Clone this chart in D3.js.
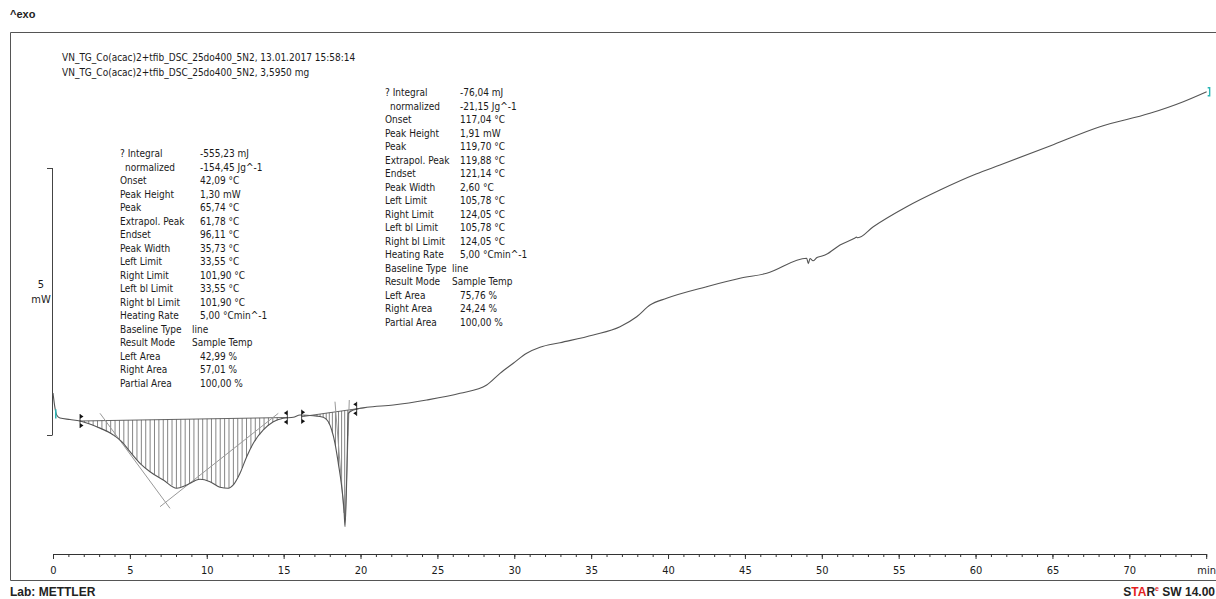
<!DOCTYPE html>
<html><head><meta charset="utf-8">
<script src="https://cdn.jsdelivr.net/npm/d3@7"></script>
<style>
body{margin:0;background:#fff;}
svg{display:block;}
.ann{font-family:'DejaVu Sans Condensed','DejaVu Sans',sans-serif;font-size:10px;fill:#1a1a1a;}
.tick text{font-family:'DejaVu Sans Condensed','DejaVu Sans',sans-serif;font-size:11px;fill:#1a1a1a;}
.bold{font-family:'Liberation Sans',Arial,sans-serif;font-weight:bold;font-size:12px;fill:#222;}
</style></head><body>
<svg id="c" width="1216" height="599"></svg>
<script>
// time in min, heat flow (relative, mW)
const curveT = [0,0.04,0.1,0.18,0.26,0.455,1.106,1.756,2.842,3.922,4.572,5.008,5.658,6.309,7.173,8.045,8.695,9.56,10.211,10.861,11.401,11.726,12.162,12.598,13.027,13.677,14.327,14.978,15.628,16.064,16.929,17.579,17.905,18.126,18.34,18.555,18.776,18.926,18.991,19.101,19.205,19.53,19.966,20.402,22.132,24.304,26.47,28.206,29.071,29.936,30.808,31.673,32.973,35.139,36.876,37.962,38.827,39.91,42.514,44.68,46.417,49.018,49.122,49.233,49.428,49.688,50.013,50.273,51.184,52.16,52.25,52.34,53.349,55.521,57.687,60.03,61.59,64.84,68.09,71.34,73.51,75.03];
const curveV = [0.787,0.69,0.56,0.43,0.365,0.318,0.29,0.262,0.155,0.0,-0.155,-0.313,-0.53,-0.687,-0.843,-0.998,-0.936,-0.83,-0.875,-0.979,-0.998,-0.936,-0.717,-0.406,-0.155,0.094,0.249,0.313,0.331,0.375,0.361,0.331,0.249,0.094,-0.155,-0.53,-0.968,-1.404,-1.717,-0.843,0.406,0.468,0.5,0.519,0.562,0.655,0.781,0.936,1.155,1.343,1.53,1.642,1.728,1.873,2.028,2.215,2.434,2.56,2.777,2.934,3.028,3.309,3.21,3.305,3.262,3.324,3.352,3.38,3.558,3.69,3.705,3.695,3.901,4.275,4.588,4.888,5.056,5.412,5.773,6.024,6.242,6.429];

// integration limits [t, v] (baseline endpoints)
const peak1Base = [[1.756,0.262],[15.24,0.328]];
const peak2Base = [[16.17,0.343],[19.75,0.49]];
const peak2BaseExt = [20.4,0.515];
// tangent lines
const tangents = [
  [[3.057,0.406],[7.609,-1.373]],
  [[6.959,-1.343],[14.653,0.406]],
  [[18.34,0.624],[18.926,-1.461]],
  [[19.27,0.655],[19.01,-1.53]]
];
const majorTicks = [0,5,10,15,20,25,30,35,40,45,50,55,60,65,70,75];
const tickLabels = ["0","5","10","15","20","25","30","35","40","45","50","55","60","65","70","min"];
const scaleBar = [0,5];

const header = ["VN_TG_Co(acac)2+tfib_DSC_25do400_5N2, 13.01.2017 15:58:14",
                "VN_TG_Co(acac)2+tfib_DSC_25do400_5N2, 3,5950 mg"];
const labels1 = ["? Integral"," normalized","Onset","Peak Height","Peak","Extrapol. Peak","Endset","Peak Width","Left Limit","Right Limit","Left bl Limit","Right bl Limit","Heating Rate","Baseline Type","Result Mode","Left Area","Right Area","Partial Area"];
const values1 = ["-555,23 mJ","-154,45 Jg^-1","42,09 °C","1,30 mW","65,74 °C","61,78 °C","96,11 °C","35,73 °C","33,55 °C","101,90 °C","33,55 °C","101,90 °C","5,00 °Cmin^-1","line","Sample Temp","42,99 %","57,01 %","100,00 %"];
const values2 = ["-76,04 mJ","-21,15 Jg^-1","117,04 °C","1,91 mW","119,70 °C","119,88 °C","121,14 °C","2,60 °C","105,78 °C","124,05 °C","105,78 °C","124,05 °C","5,00 °Cmin^-1","line","Sample Temp","75,76 %","24,24 %","100,00 %"];

const svg = d3.select("#c");
const x = d3.scaleLinear().domain([0,75]).range([53,1206.2]);
const y = d3.scaleLinear().domain([0,5]).range([435,168]);

// frame (right edge lies outside the picture)
svg.append("path").attr("fill","none").attr("stroke","#555").attr("stroke-width",1)
  .attr("d","M1216,32.5H10.5V580.5H1216");

svg.append("text").attr("class","bold").attr("x",10).attr("y",18).style("font-size","11px").text("^exo");
svg.append("text").attr("class","bold").attr("x",10).attr("y",596).text("Lab: METTLER");
const star = svg.append("text").attr("class","bold").attr("x",1215).attr("y",596).attr("text-anchor","end");
star.append("tspan").text("S");
star.append("tspan").style("fill","#e41e1e").text("TA");
star.append("tspan").text("R");
star.append("tspan").style("fill","#e41e1e").style("font-size","7px").attr("dy",-5).text("e");
star.append("tspan").attr("dy",5).text(" SW 14.00");

// header
svg.selectAll(".hdr").data(header).enter().append("text").attr("class","ann")
  .attr("x",62).attr("y",(d,i)=>61+i*14.5).text(d=>d);

function block(x0, xv, y0, vals){
  const g = svg.append("g");
  labels1.forEach((l,i)=>{
    const yy = y0 + i*13.5;
    g.append("text").attr("class","ann").attr("x",x0 + (i===1?5:0)).attr("y",yy).text(l.trim());
    let vx = xv;
    if (i===13 || i===14) vx = xv - 8;
    g.append("text").attr("class","ann").attr("x",vx).attr("y",yy).text(vals[i]);
  });
}
block(120, 200, 157, values1);
block(385, 460, 96, values2);

// x axis
const ax = svg.append("g").attr("transform","translate(0,554)");
ax.call(d3.axisBottom(x).tickValues(d3.range(0,76,1)).tickSize(3).tickSizeOuter(0).tickFormat(""));
ax.call(g=>g.selectAll("path,line").attr("stroke","#333"));
const ax2 = svg.append("g").attr("transform","translate(0,554)");
ax2.call(d3.axisBottom(x).tickValues(majorTicks).tickSize(5).tickPadding(7).tickSizeOuter(0)
  .tickFormat((d,i)=>tickLabels[i]));
ax2.select(".domain").remove();
ax2.selectAll("line").attr("stroke","#333");

// y scale bar
const sb = svg.append("g");
sb.append("line").attr("x1",52.5).attr("x2",52.5).attr("y1",y(scaleBar[0])).attr("y2",y(scaleBar[1])).attr("stroke","#444");
scaleBar.forEach(v=>sb.append("line").attr("x1",47).attr("x2",52.5).attr("y1",y(v)+0.5).attr("y2",y(v)+0.5).attr("stroke","#444"));
sb.append("text").attr("class","ann").attr("x",41).attr("y",288).attr("text-anchor","middle").style("font-size","11px").text(scaleBar[1]);
sb.append("text").attr("class","ann").attr("x",41).attr("y",303).attr("text-anchor","middle").style("font-size","11px").text("mW");

// interpolate curve
function curveAt(t){
  const i = d3.bisectRight(curveT, t);
  if (i<=0) return curveV[0];
  if (i>=curveT.length) return curveV[curveV.length-1];
  const t0=curveT[i-1], t1=curveT[i];
  return curveV[i-1] + (curveV[i]-curveV[i-1])*(t-t0)/(t1-t0);
}
function baseAt(b,t){ return b[0][1] + (b[1][1]-b[0][1])*(t-b[0][0])/(b[1][0]-b[0][0]); }

// hatching
function hatch(b, step){
  const g = svg.append("g").attr("stroke","#666").attr("stroke-width",0.8);
  for (let t=b[0][0]+step; t<b[1][0]; t+=step){
    g.append("line").attr("x1",x(t)).attr("x2",x(t)).attr("y1",y(baseAt(b,t))).attr("y2",y(curveAt(t)));
  }
  svg.append("line").attr("x1",x(b[0][0])).attr("y1",y(b[0][1])).attr("x2",x(b[1][0])).attr("y2",y(b[1][1]))
    .attr("stroke","#555").attr("stroke-width",0.9);
}
hatch(peak1Base, 0.285);
hatch(peak2Base, 0.2);
svg.append("line").attr("x1",x(peak2Base[1][0])).attr("y1",y(peak2Base[1][1])).attr("x2",x(peak2BaseExt[0])).attr("y2",y(peak2BaseExt[1]))
  .attr("stroke","#888");

// tangents
svg.selectAll(".tan").data(tangents).enter().append("line")
  .attr("x1",d=>x(d[0][0])).attr("y1",d=>y(d[0][1])).attr("x2",d=>x(d[1][0])).attr("y2",d=>y(d[1][1]))
  .attr("stroke","#999").attr("stroke-width",1);

// curve
const pts = curveT.map((t,i)=>[t,curveV[i]]);
svg.append("path").datum(pts).attr("fill","none").attr("stroke","#555").attr("stroke-width",1.1)
  .attr("d", d3.line().x(d=>x(d[0])).y(d=>y(d[1])).curve(d3.curveMonotoneX));

// limit markers
function marker(t,v,dir){
  const px=x(t), py=y(v);
  const g=svg.append("g").attr("fill","#111").attr("stroke","#111");
  g.append("line").attr("x1",px).attr("x2",px).attr("y1",py-7).attr("y2",py+7).attr("stroke-width",0.8);
  [-4.5,4.5].forEach(o=>{
    g.append("path").attr("stroke","none")
     .attr("d",`M${px},${py+o-2.2}L${px+dir*3.5},${py+o}L${px},${py+o+2.2}Z`);
  });
}
marker(peak1Base[0][0],peak1Base[0][1],1);
marker(peak1Base[1][0],peak1Base[1][1],-1);
marker(peak2Base[0][0],peak2Base[0][1],1);
marker(peak2Base[1][0],peak2Base[1][1],-1);

// cyan start/end marks
svg.append("line").attr("x1",x(0.18)).attr("x2",x(0.18)).attr("y1",y(0.48)).attr("y2",y(0.31))
  .attr("stroke","#2bb5b5").attr("stroke-width",1.5);
const endT = curveT[curveT.length-1], endV = curveV[curveV.length-1];
svg.append("path").attr("fill","none").attr("stroke","#2bb5b5").attr("stroke-width",1.4)
  .attr("d",`M${x(endT)+1},${y(endV)-4}h2v8h-2`);
</script></body></html>
